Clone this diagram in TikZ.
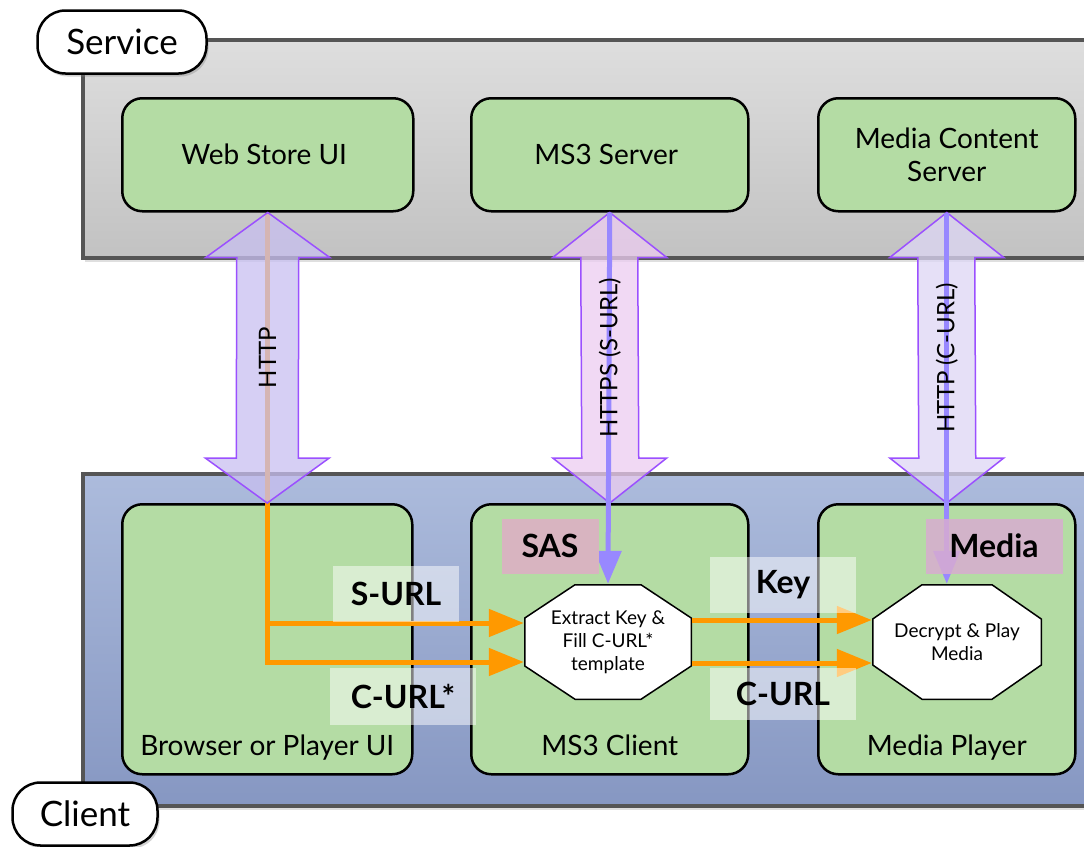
\documentclass[tikz,border=0pt]{standalone}
\usepackage{fontspec}
\setmainfont{Lato}
\usetikzlibrary{
	arrows.meta,
	calc,
	positioning,
	shadows
}

\definecolor{boxgreen}{RGB}{180,220,164}
\definecolor{servicetop}{RGB}{222,222,222}
\definecolor{servicebottom}{RGB}{194,194,194}
\definecolor{clienttop}{RGB}{172,187,220}
\definecolor{clientbottom}{RGB}{134,151,194}
\definecolor{bandborder}{RGB}{85,85,85}
\definecolor{httpfill}{RGB}{200,191,240}
\definecolor{httpsfill}{RGB}{236,204,240}
\definecolor{curlfill}{RGB}{221,214,244}
\definecolor{arrowborder}{RGB}{155,80,255}
\definecolor{msgorange}{RGB}{255,153,0}
\definecolor{msgpurple}{RGB}{152,136,255}
\definecolor{saspink}{RGB}{216,180,192}
\definecolor{mediapink}{RGB}{216,172,208}

\begin{document}
\begin{tikzpicture} [
		x = 1pt,
		y = -1pt,
		band/.style = {
			draw = bandborder,
			line width = 4pt,
			drop shadow = {opacity = 0.25, shadow xshift = 2pt, shadow yshift = -4pt},
		},
		pill/.style = {
			draw,
			fill = white,
			line width = 2.5pt,
			rounded corners = 28pt,
			minimum width = 169pt,
			minimum height = 63pt,
			font = \fontsize{35}{40}\selectfont,
			drop shadow = {opacity = 0.35, shadow xshift = 2pt, shadow yshift = -3pt},
		},
		box/.style = {
			draw,
			fill = boxgreen,
			line width = 2.5pt,
			rounded corners = 20pt,
			anchor = north west,
			align = center,
			font = \fontsize{28}{33}\selectfont,
		},
		box-caption/.style = {
			inner sep = 0pt,
			text height = 20pt,
			text depth = 6pt,
			font = \fontsize{28}{33}\selectfont,
		},
		step-box/.style 2 args = {
			rectangle,
			minimum width = 168pt,
			minimum height = 116pt,
			inner sep = 0pt,
			align = center,
			font = \fontsize{19}{23}\selectfont,
			path picture = {
				\path[draw, fill = white, line width = 1.5pt]
					([shift = {(#1,0.75)}]path picture bounding box.north west)
					-- ([shift = {(-#1,0.75)}]path picture bounding box.north east)
					-- ([shift = {(-0.75,#2)}]path picture bounding box.north east)
					-- ([shift = {(-0.75,-#2)}]path picture bounding box.south east)
					-- ([shift = {(-#1,-0.75)}]path picture bounding box.south east)
					-- ([shift = {(#1,-0.75)}]path picture bounding box.south west)
					-- ([shift = {(0.75,-#2)}]path picture bounding box.south west)
					-- ([shift = {(0.75,#2)}]path picture bounding box.north west)
					-- cycle;
			},
		},
		bigarrow/.style = {
			draw = arrowborder,
			line width = 1.5pt,
			fill opacity = 0.75,
			line join = miter,
		},
		bigarrow-caption/.style = {
			rotate = 90,
			font = \fontsize{24}{28}\selectfont,
		},
		orange-line/.style = {
			draw = msgorange,
			line width = 5pt,
		},
		purple-line/.style = {
			draw = msgpurple,
			line width = 5pt,
		},
		tag/.style = {
			fill = white,
			fill opacity = 0.5,
			text opacity = 1,
			inner sep = 0pt,
			minimum width = 146pt,
			minimum height = 55pt,
			font = \fontsize{32}{36}\selectfont\bfseries,
		},
		data-tag/.style = {
			tag,
			fill opacity = 1,
			minimum width = 97pt,
		},
	]

	\clip (0,0) rectangle (1084,846);

	\path[band, top color = servicetop, bottom color = servicebottom]
		(83,40) rectangle (1110,258);
	\path[band, top color = clienttop, bottom color = clientbottom]
		(83,474) rectangle (1110,806);

	\node[pill] (service) at (122,42) {Service};
	\node[pill, minimum width = 145pt] (client) at (85,814) {Client};

	\node[box, minimum width = 291pt, minimum height = 113pt] (wsui) at (121,97) {
		Web Store UI
	};
	\node[box, minimum width = 277pt, minimum height = 113pt] (mss) at (470,97) {
		MS3 Server
	};
	\node[box, minimum width = 257pt, minimum height = 113pt] (mcs) at (817,97) {
		Media Content\\Server
	};

	\node[box, minimum width = 290pt, minimum height = 270pt] (bpui) at (121,503) {};
	\node[box, minimum width = 277pt, minimum height = 270pt] (msc) at (470,503) {};
	\node[box, minimum width = 257pt, minimum height = 270pt] (mp) at (817,503) {};

	\node[box-caption, above = 14pt of bpui.south] (bpui-caption) {Browser or Player UI};
	\node[box-caption, above = 14pt of msc.south] (msc-caption) {MS3 Client};
	\node[box-caption, above = 14pt of mp.south] (mp-caption) {Media Player};

	\node[step-box = {51}{34}] (extract) at (608,642) {
		Extract Key \&\\Fill C-URL*\\template
	};
	\node[step-box = {50}{35}, minimum width = 170pt] (decrypt) at (957,642) {
		Decrypt \& Play\\Media
	};

	\coordinate (surl-in) at ([yshift = 19pt]extract.west);
	\coordinate (curl-in) at ([yshift = -20pt]extract.west);
	\coordinate (key-out) at ([yshift = 22pt]extract.east);
	\coordinate (curl-out) at ([yshift = -21pt]extract.east);
	\coordinate (key-in) at (key-out -| decrypt.west);
	\coordinate (curl-play) at (curl-out -| decrypt.west);

	\begin{scope} [
			every path/.style = orange-line,
			-{Triangle[length = 35pt, width = 27pt]}
		]
		\path (wsui.south) |- (curl-in);
		\path (wsui.south |- surl-in) -- (surl-in);
		\path (key-out) -- (key-in);
		\path (curl-out) -- (curl-play);
	\end{scope}

	\path[bigarrow, fill = httpfill]
		(wsui.south) -- ++(62,45) -- ++(-31,0)
		-- ($(bpui.north)+(31,-45)$) -- ++(31,0) -- (bpui.north)
		-- ++(-62,-45) -- ++(31,0)
		-- ($(wsui.south)+(-31,45)$) -- ++(-31,0) -- cycle;
	\path[bigarrow, fill = httpsfill]
		(mss.south) -- ++(57,45) -- ++(-29,0)
		-- ($(msc.north)+(29,-45)$) -- ++(28,0) -- (msc.north)
		-- ++(-57,-45) -- ++(29,0)
		-- ($(mss.south)+(-29,45)$) -- ++(-28,0) -- cycle;
	\path[bigarrow, fill = curlfill]
		(mcs.south) -- ++(57,45) -- ++(-29,0)
		-- ($(mp.north)+(29,-45)$) -- ++(28,0) -- (mp.north)
		-- ++(-57,-45) -- ++(29,0)
		-- ($(mcs.south)+(-29,45)$) -- ++(-28,0) -- cycle;

	\begin{scope} [
			every path/.style = purple-line,
			-{Triangle[length = 33pt, width = 26pt]}
		]
		\path (mss.south) -- (extract.north);
		\path (mcs.south) -- (mcs.south |- decrypt.north);
	\end{scope}

	\node[bigarrow-caption] (http) at ($(wsui.south)!0.5!(bpui.north)$) {HTTP};
	\node[bigarrow-caption] (https) at ($(mss.south)!0.5!(msc.north)$) {HTTPS (S-URL)};
	\node[bigarrow-caption] (http-curl) at ($(mcs.south)!0.5!(mp.north)$) {HTTP (C-URL)};

	\node[tag, minimum width = 126pt, minimum height = 56pt] (surl) at (396,594) {S-URL};
	\node[tag, minimum height = 57pt] (curl-star) at (403,696) {C-URL*};
	\node[tag, minimum height = 56pt] (key) at (783,585) {Key};
	\node[tag, minimum height = 52pt] (curl) at (783,694) {C-URL};
	\node[data-tag, fill = saspink] (sas) at (550,546) {SAS};
	\node[data-tag, fill = mediapink, fill opacity = 0.85, minimum width = 137pt] (media) at (994,546) {Media};
\end{tikzpicture}
\end{document}
